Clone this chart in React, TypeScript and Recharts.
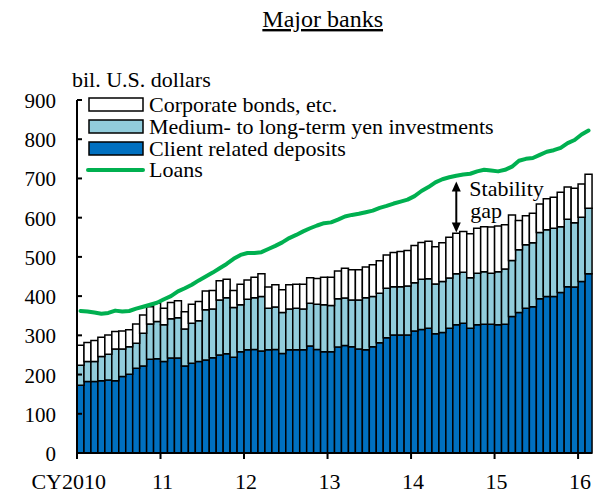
import React from 'react';
import { ComposedChart, Bar, Line, XAxis, YAxis, Legend, ReferenceLine } from 'recharts';

// ---- data ----
const months: string[] = [
  '2010-01','2010-02','2010-03','2010-04','2010-05','2010-06','2010-07','2010-08','2010-09','2010-10','2010-11','2010-12',
  '2011-01','2011-02','2011-03','2011-04','2011-05','2011-06','2011-07','2011-08','2011-09','2011-10','2011-11','2011-12',
  '2012-01','2012-02','2012-03','2012-04','2012-05','2012-06','2012-07','2012-08','2012-09','2012-10','2012-11','2012-12',
  '2013-01','2013-02','2013-03','2013-04','2013-05','2013-06','2013-07','2013-08','2013-09','2013-10','2013-11','2013-12',
  '2014-01','2014-02','2014-03','2014-04','2014-05','2014-06','2014-07','2014-08','2014-09','2014-10','2014-11','2014-12',
  '2015-01','2015-02','2015-03','2015-04','2015-05','2015-06','2015-07','2015-08','2015-09','2015-10','2015-11','2015-12',
  '2016-01','2016-02',
];

const clientDeposits: number[] = [
  173,182,182,184,186,184,195,201,216,222,239,240,
  233,242,242,222,229,233,237,243,250,253,244,258,
  263,264,260,263,264,254,263,263,263,273,264,258,
  258,270,274,271,265,263,271,281,294,301,301,301,
  311,315,318,304,307,318,327,331,318,327,328,328,
  327,328,348,358,369,373,393,399,399,409,424,423,
  437,457,
];

const yenInvestments: number[] = [
  51,51,51,62,66,81,70,70,64,83,90,95,
  94,100,103,94,102,104,128,124,140,143,127,120,
  129,132,139,106,108,104,104,106,104,109,115,120,
  118,123,121,119,125,133,128,126,126,123,123,125,
  123,128,126,127,130,128,130,130,129,131,134,130,
  135,141,143,160,162,163,169,170,174,168,172,164,
  164,167,
];

const corporateBonds: number[] = [
  51,49,54,49,49,45,46,43,49,47,44,47,
  42,42,43,44,48,49,48,47,49,47,43,52,
  49,52,58,54,57,58,62,61,63,65,66,70,
  72,71,76,77,77,78,81,83,85,87,90,90,
  95,94,96,95,99,104,103,104,112,115,115,118,
  117,113,116,75,74,75,73,79,79,88,82,88,
  85,87,
];

const loans: number[] = [
  362,361,358,355,357,363,361,362,368,373,378,383,
  392,400,412,420,429,440,450,460,471,482,495,505,
  510,510,512,520,528,537,548,556,565,573,580,586,
  588,595,603,607,610,614,618,625,630,636,641,646,
  655,668,678,690,698,703,707,710,712,718,722,720,
  718,722,730,745,750,752,760,768,772,778,790,798,
  812,822,
];

const yearTicks: string[] = ['2010-01','2011-01','2012-01','2013-01','2014-01','2015-01','2016-01'];
const yearLabels: string[] = ['CY2010','11','12','13','14','15','16'];
const yTicks: number[] = [0,100,200,300,400,500,600,700,800,900];

const seriesNames = {
  corp: 'Corporate bonds, etc.',
  yen: 'Medium- to long-term yen investments',
  dep: 'Client related deposits',
  loans: 'Loans',
};

const gapMonth = '2014-07';
const gapLow = 562;
const gapHigh = 692;

const data = months.map((m, i) => ({
  month: m,
  dep: clientDeposits[i],
  yen: yenInvestments[i],
  corp: corporateBonds[i],
  loans: loans[i],
}));

// ---- layout / style ----
const FONT = '"Liberation Serif", "Times New Roman", Times, serif';
const W = 604;
const H = 493;
const PLOT_LEFT = 77;
const PLOT_RIGHT = 592;
const PLOT_TOP = 100;
const PLOT_BOTTOM = 453;
const BAND = (PLOT_RIGHT - PLOT_LEFT) / months.length;
const C_DEP = '#0070C0';
const C_YEN = '#92CDDC';
const C_CORP = '#FFFFFF';
const C_LOAN = '#00B050';
const FS = 22;

const YTick = (props: any) => {
  const { y, payload } = props;
  return (
    <g>
      <line x1={PLOT_LEFT} x2={PLOT_LEFT + 5} y1={y} y2={y} stroke="#000" strokeWidth={2} />
      <text x={56} y={y} dy={8} textAnchor="end" fontSize={FS - 1} fontFamily={FONT} fill="#000">
        {payload.value}
      </text>
    </g>
  );
};

const XTick = (props: any) => {
  const { x, payload } = props;
  const idx = yearTicks.indexOf(payload.value);
  const bx = x - BAND / 2;
  const first = idx === 0;
  return (
    <g>
      <line x1={bx} x2={bx} y1={PLOT_BOTTOM} y2={PLOT_BOTTOM + 6} stroke="#000" strokeWidth={2} />
      <text
        x={first ? bx + 29 : bx + 2}
        y={489}
        textAnchor={first ? 'end' : 'middle'}
        fontSize={FS}
        fontFamily={FONT}
        fill="#000"
      >
        {idx >= 0 ? yearLabels[idx] : ''}
      </text>
    </g>
  );
};

const LegendContent = () => {
  const boxX = 89;
  const textX = 149;
  const rows = [
    { name: seriesNames.corp, fill: C_CORP, cy: 104.5 },
    { name: seriesNames.yen, fill: C_YEN, cy: 126.5 },
    { name: seriesNames.dep, fill: C_DEP, cy: 148.5 },
  ];
  return (
    <svg width={W} height={200} style={{ display: 'block' }}>
      {rows.map((r) => (
        <g key={r.name}>
          <rect x={boxX} y={r.cy - 6.5} width={54} height={13} fill={r.fill} stroke="#000" strokeWidth={1.5} />
          <text x={textX} y={r.cy + 7} fontSize={FS} fontFamily={FONT} fill="#000">{r.name}</text>
        </g>
      ))}
      <line x1={88} x2={143} y1={170} y2={170} stroke={C_LOAN} strokeWidth={4} strokeLinecap="round" />
      <text x={textX} y={177} fontSize={FS} fontFamily={FONT} fill="#000">{seriesNames.loans}</text>
    </svg>
  );
};

const GapArrow = (props: any) => {
  const { x1, y1, x2, y2 } = props;
  const top = Math.min(y1, y2);
  const bot = Math.max(y1, y2);
  const x = (x1 + x2) / 2;
  const ah = 10;
  const aw = 4.5;
  return (
    <g>
      <line x1={x} x2={x} y1={top + ah - 1} y2={bot - ah + 1} stroke="#000" strokeWidth={2} />
      <polygon points={`${x},${top} ${x - aw},${top + ah} ${x + aw},${top + ah}`} fill="#000" />
      <polygon points={`${x},${bot} ${x - aw},${bot - ah} ${x + aw},${bot - ah}`} fill="#000" />
      <text x={x + 13} y={top + 14} fontSize={FS} fontFamily={FONT} fill="#000">Stability</text>
      <text x={x + 14} y={top + 36} fontSize={FS} fontFamily={FONT} fill="#000">gap</text>
    </g>
  );
};

export default function App() {
  return (
    <div style={{ position: 'absolute', left: 0, top: 0, width: W, height: H, background: '#fff', fontFamily: FONT }}>
      <ComposedChart
        width={W}
        height={H}
        data={data}
        margin={{ top: PLOT_TOP, right: W - PLOT_RIGHT, bottom: 0, left: 0 }}
        barCategoryGap={0}
        barGap={0}
      >
        <XAxis
          dataKey="month"
          type="category"
          ticks={yearTicks}
          interval={0}
          tick={<XTick />}
          tickLine={false}
          axisLine={{ stroke: '#000', strokeWidth: 2 }}
          height={H - PLOT_BOTTOM}
        />
        <YAxis
          type="number"
          domain={[0, 900]}
          ticks={yTicks}
          interval={0}
          tick={<YTick />}
          tickLine={false}
          axisLine={{ stroke: '#000', strokeWidth: 2 }}
          width={PLOT_LEFT}
        />
        <Legend
          content={<LegendContent />}
          layout="horizontal"
          verticalAlign="middle"
          align="center"
          width={W}
          height={200}
          wrapperStyle={{ left: 0, top: 0, width: W, height: 200 }}
        />
        <Bar dataKey="dep" name={seriesNames.dep} stackId="s" fill={C_DEP} stroke="#000" strokeWidth={1.5} isAnimationActive={false} />
        <Bar dataKey="yen" name={seriesNames.yen} stackId="s" fill={C_YEN} stroke="#000" strokeWidth={1.5} isAnimationActive={false} />
        <Bar dataKey="corp" name={seriesNames.corp} stackId="s" fill={C_CORP} stroke="#000" strokeWidth={1.5} isAnimationActive={false} />
        <Line
          dataKey="loans"
          name={seriesNames.loans}
          type="linear"
          stroke={C_LOAN}
          strokeWidth={4}
          strokeLinejoin="round"
          strokeLinecap="round"
          dot={false}
          activeDot={false}
          isAnimationActive={false}
        />
        <ReferenceLine
          segment={[{ x: gapMonth, y: gapLow }, { x: gapMonth, y: gapHigh }]}
          shape={<GapArrow />}
          ifOverflow="visible"
        />
      </ComposedChart>
      <svg width={W} height={95} style={{ position: 'absolute', left: 0, top: 0, pointerEvents: 'none' }}>
        <text x={322.7} y={27} textAnchor="middle" fontSize={24} fontFamily={FONT} fill="#000" style={{ textDecoration: 'underline' }}>
          Major banks
        </text>
        <text x={72} y={87} fontSize={FS} fontFamily={FONT} fill="#000">bil. U.S. dollars</text>
      </svg>
    </div>
  );
}
